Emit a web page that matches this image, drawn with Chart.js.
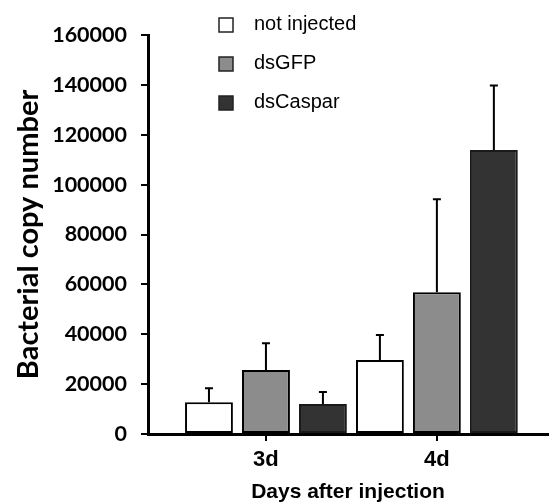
<!DOCTYPE html>
<html>
<head>
<meta charset="utf-8">
<script src="https://cdn.jsdelivr.net/npm/chart.js@4"></script>
<style>
    html, body { margin: 0; padding: 0; background: #fff; }
    #wrap { width: 554px; height: 502px; }
</style>
</head>
<body>
<div id="wrap"><canvas id="bacteriaChart" width="554" height="502"></canvas></div>
<script>
// Values
const days = ['3d', '4d'];
const seriesNames = ['not injected', 'dsGFP', 'dsCaspar'];
const notInjected = [12700, 29700];
const dsGFP = [25700, 56800];
const dsCaspar = [12000, 113900];

// Upper end of each error bar
const notInjectedErr = [18300, 39700];
const dsGFPErr = [36400, 94100];
const dsCasparErr = [16800, 139700];

const yTicks = [0, 20000, 40000, 60000, 80000, 100000, 120000, 140000, 160000];

const fills = ['#ffffff', '#8c8c8c', '#333333'];
const errors = [notInjectedErr, dsGFPErr, dsCasparErr];

// Turn a series into {x, y} points, one per day
function toPoints(values) {
    return values.map((v, i) => ({ x: i + 1, y: v }));
}

// Draw the upper error bars on top of each bar
const errorBarPlugin = {
    id: 'errorBars',
    afterDatasetsDraw(chart) {
        const ctx = chart.ctx;
        const yScale = chart.scales.y;
        ctx.save();
        ctx.strokeStyle = '#000';
        ctx.lineWidth = 2;
        chart.data.datasets.forEach((ds, d) => {
            const meta = chart.getDatasetMeta(d);
            meta.data.forEach((bar, i) => {
                const top = yScale.getPixelForValue(errors[d][i]);
                ctx.beginPath();
                ctx.moveTo(bar.x, bar.y);
                ctx.lineTo(bar.x, top);
                ctx.moveTo(bar.x - 4, top);
                ctx.lineTo(bar.x + 4, top);
                ctx.stroke();
            });
        });
        ctx.restore();
    }
};

// Legend in the top of the plot, squares with names
const squareLegendPlugin = {
    id: 'squareLegend',
    afterDraw(chart) {
        const ctx = chart.ctx;
        ctx.save();
        ctx.font = '20px "Liberation Sans", Arial, sans-serif';
        ctx.textBaseline = 'middle';
        chart.data.datasets.forEach((ds, i) => {
            const y = 25 + i * 39;
            ctx.fillStyle = ds.backgroundColor;
            ctx.fillRect(219, y - 7, 14, 14);
            ctx.strokeStyle = '#222';
            ctx.lineWidth = 1.5;
            ctx.strokeRect(219, y - 7, 14, 14);
            ctx.fillStyle = '#000';
            ctx.fillText(ds.label, 254, y - 1);
        });
        ctx.restore();
    }
};

const ctx = document.getElementById('bacteriaChart').getContext('2d');

new Chart(ctx, {
    type: 'bar',
    data: {
        datasets: [
            {
                label: seriesNames[0],
                data: toPoints(notInjected),
                backgroundColor: fills[0],
                borderColor: '#000',
                borderWidth: 2,
                borderSkipped: false
            },
            {
                label: seriesNames[1],
                data: toPoints(dsGFP),
                backgroundColor: fills[1],
                borderColor: '#000',
                borderWidth: 2,
                borderSkipped: false
            },
            {
                label: seriesNames[2],
                data: toPoints(dsCaspar),
                backgroundColor: fills[2],
                borderColor: '#1a1a1a',
                borderWidth: 2,
                borderSkipped: false
            }
        ]
    },
    options: {
        responsive: false,
        animation: false,
        categoryPercentage: 1.0,
        barPercentage: 0.84,
        layout: {
            padding: { top: 35, right: 6, bottom: 0, left: 0 }
        },
        scales: {
            x: {
                type: 'linear',
                min: 0.31,
                max: 2.65,
                offset: false,
                afterBuildTicks: (scale) => {
                    scale.ticks = days.map((d, i) => ({ value: i + 1 }));
                },
                afterFit: (scale) => { scale.height = 68; },
                ticks: {
                    callback: (v) => days[v - 1],
                    autoSkip: false,
                    maxRotation: 0,
                    padding: 6,
                    color: '#000',
                    font: { family: '"Liberation Sans", Arial', weight: 'bold', size: 22 }
                },
                grid: {
                    offset: false,
                    drawOnChartArea: false,
                    tickLength: 7,
                    color: '#000',
                    lineWidth: 2
                },
                border: { color: '#000', width: 3 },
                title: {
                    display: true,
                    text: 'Days after injection',
                    color: '#000',
                    padding: { top: 0, bottom: -3 },
                    font: { family: '"Liberation Sans", Arial', weight: 'bold', size: 21 }
                }
            },
            y: {
                min: 0,
                max: 160000,
                afterBuildTicks: (scale) => {
                    scale.ticks = yTicks.map((v) => ({ value: v }));
                },
                afterFit: (scale) => { scale.width = 148; },
                ticks: {
                    callback: (v) => String(v),
                    padding: 14,
                    color: '#000',
                    font: { family: 'Lato', weight: 'bold', size: 21.5 }
                },
                grid: {
                    drawOnChartArea: false,
                    tickLength: 7,
                    color: '#000',
                    lineWidth: 2
                },
                border: { color: '#000', width: 3 },
                title: {
                    display: true,
                    text: 'Bacterial copy number',
                    color: '#000',
                    padding: { top: 11, bottom: 0 },
                    font: { family: 'Lato', weight: 'bold', size: 29 }
                }
            }
        },
        plugins: {
            legend: { display: false },
            tooltip: { enabled: false }
        }
    },
    plugins: [errorBarPlugin, squareLegendPlugin]
});
</script>
</body>
</html>
